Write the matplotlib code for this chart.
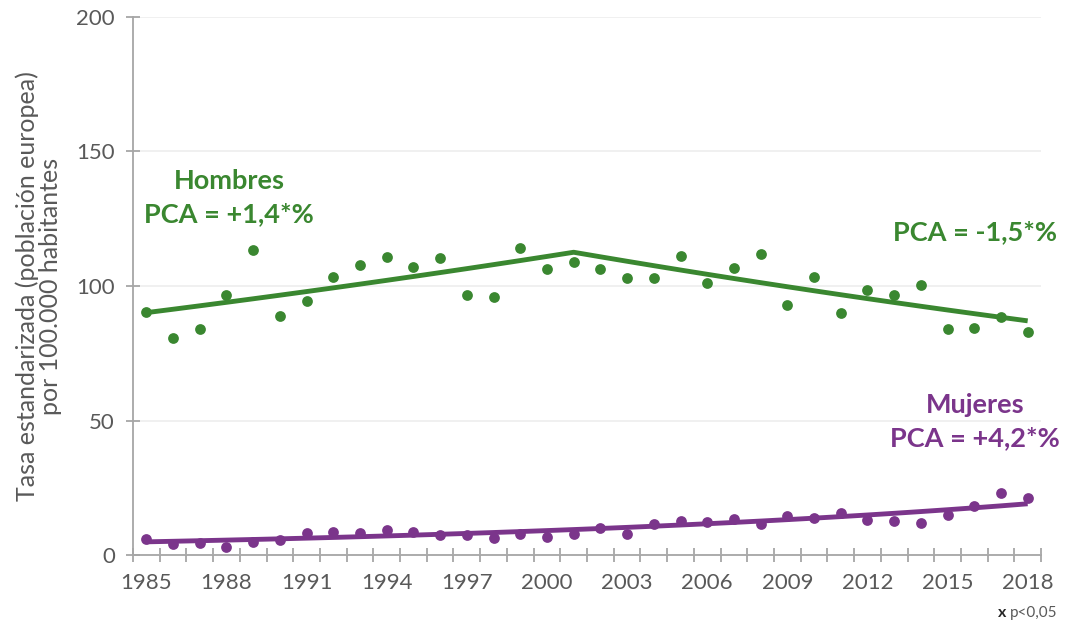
import numpy as np
import matplotlib.pyplot as plt

plt.rcParams['font.family'] = ['Lato', 'DejaVu Sans']

anios = list(range(1985, 2019))

hombres = [90.4, 80.8, 84.1, 96.5, 113.3, 88.8, 94.4, 103.3, 107.8, 110.9,
           107.2, 110.5, 96.5, 95.8, 114.1, 106.4, 109.0, 106.3, 103.1, 103.1,
           111.0, 101.2, 106.6, 111.9, 92.9, 103.5, 90.1, 98.5, 96.7, 100.4,
           83.9, 84.3, 88.6, 82.9]
mujeres = [6.1, 4.0, 4.3, 2.9, 5.0, 5.6, 8.3, 8.6, 8.1, 9.3,
           8.4, 7.3, 7.4, 6.2, 7.7, 6.6, 7.7, 9.9, 7.7, 11.5,
           12.8, 12.4, 13.3, 11.5, 14.6, 13.6, 15.7, 13.0, 12.6, 12.0,
           15.0, 18.2, 22.9, 21.3]

# tramos joinpoint: (año inicio, año fin, valor inicial, PCA %)
tramos_hombres = [(1985, 2001, 90.1, 1.4), (2001, 2018, None, -1.5)]
tramos_mujeres = [(1985, 2018, 4.9, 4.2)]

verde = '#3A8730'
morado = '#7B358B'
gris = '#595959'


def tendencia(tramos):
    xs, ys = [], []
    valor = None
    for ini, fin, v0, pca in tramos:
        if v0 is not None:
            valor = v0
        t = np.arange(ini, fin + 1)
        y = valor * (1 + pca / 100) ** (t - ini)
        xs.extend(t - 1985)
        ys.extend(y)
        valor = y[-1]
    return xs, ys


fig = plt.figure(figsize=(10.65, 6.27), dpi=100)
ax = fig.add_axes([0.1249, 0.1148, 0.8526, 0.8581])

pos = np.arange(len(anios))
ax.scatter(pos, hombres, s=60, color=verde, zorder=3, linewidths=0)
ax.scatter(pos, mujeres, s=60, color=morado, zorder=3, linewidths=0)

xh, yh = tendencia(tramos_hombres)
ax.plot(xh, yh, color=verde, lw=3.5, zorder=2, solid_capstyle='butt')
xm, ym = tendencia(tramos_mujeres)
ax.plot(xm, ym, color=morado, lw=3.5, zorder=2, solid_capstyle='butt')

ax.set_xlim(-0.5, len(anios) - 0.5)
ax.set_ylim(0, 200)
ax.set_yticks([0, 50, 100, 150, 200])
ax.set_xticks(pos[::3])
ax.set_xticklabels([str(a) for a in anios[::3]])
ax.set_xticks(np.arange(-0.5, len(anios), 1), minor=True)
ax.grid(axis='y', color='#EEEEEE', lw=1.2)
ax.set_axisbelow(True)

for s in ['top', 'right']:
    ax.spines[s].set_visible(False)
for s in ['left', 'bottom']:
    ax.spines[s].set_color('#A6A6A6')
    ax.spines[s].set_linewidth(1.3)

ax.tick_params(axis='x', which='major', length=0, pad=13, labelsize=16, labelcolor=gris)
ax.tick_params(axis='x', which='minor', direction='inout', length=10, width=1.3, color='#A6A6A6')
ax.tick_params(axis='y', direction='inout', length=10, width=1.3, color='#A6A6A6',
               labelsize=16, labelcolor=gris, pad=8)

ax.set_ylabel('Tasa estandarizada (población europea)\npor 100.000 habitantes',
              fontsize=18, color=gris, labelpad=10, linespacing=1.0)

kw = dict(fontsize=19.5, fontweight='bold', va='center')
ax.text(3.1, 139, 'Hombres', color=verde, ha='center', **kw)
ax.text(3.1, 126.8, 'PCA = +1,4*%', color=verde, ha='center', **kw)
ax.text(34.08, 120, 'PCA = -1,5*%', color=verde, ha='right', **kw)
ax.text(31.05, 55.8, 'Mujeres', color=morado, ha='center', **kw)
ax.text(31.03, 43.5, 'PCA = +4,2*%', color=morado, ha='center', **kw)

fig.text(0.9925, 0.022, 'p<0,05', color=gris, fontsize=11, ha='right', va='center')
fig.text(0.9445, 0.022, 'x', color='#262626', fontsize=11.5, fontweight='bold', ha='right', va='center')

fig.savefig('out.png', dpi=100)
